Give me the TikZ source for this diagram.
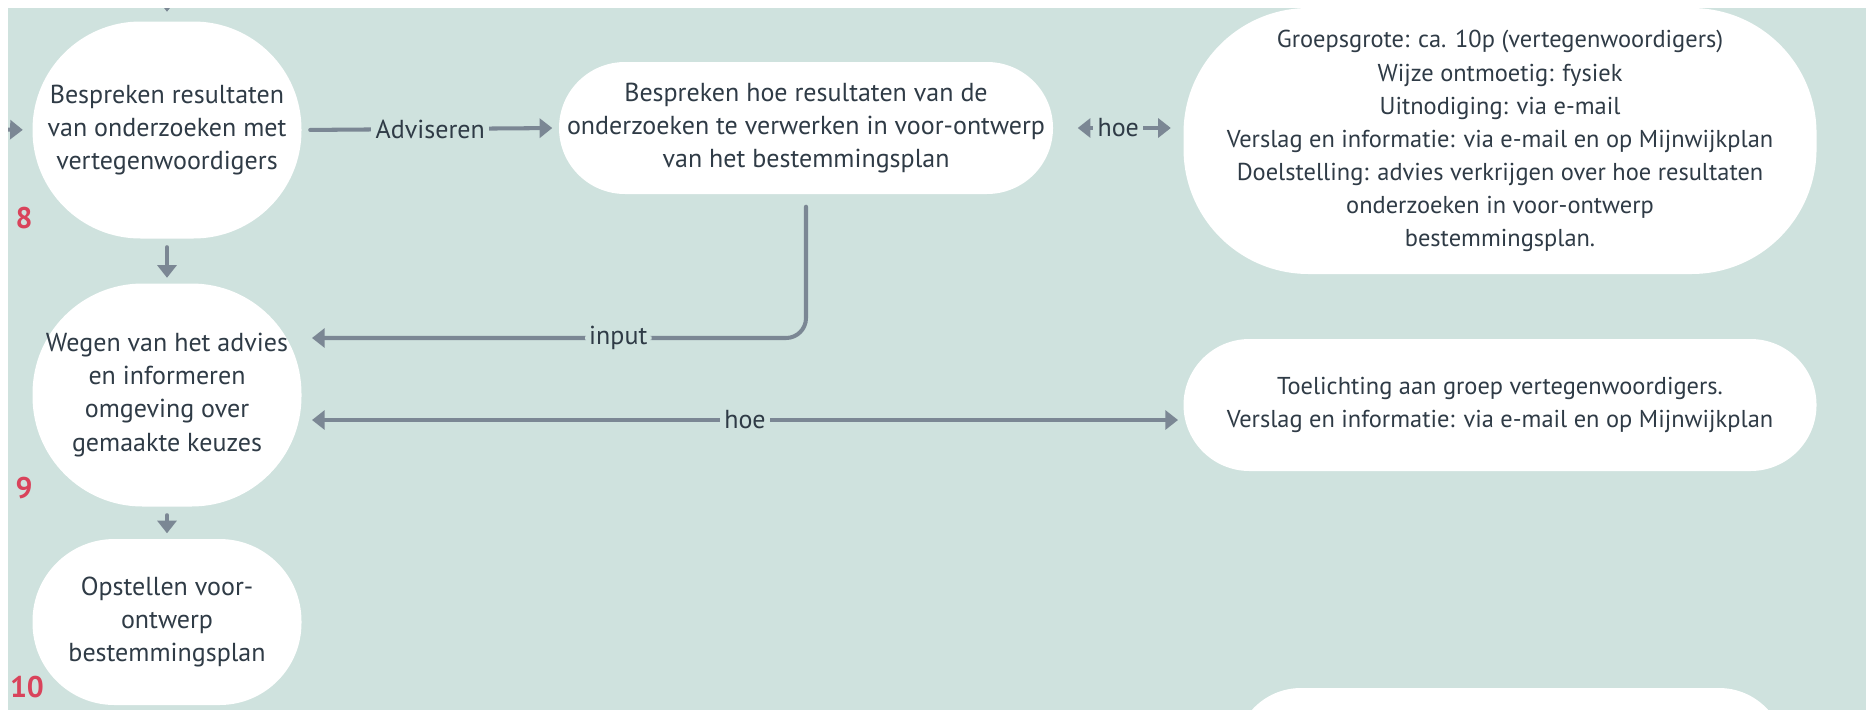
\documentclass[tikz,border=0pt]{standalone}
\usepackage{fontspec}
\setmainfont{PT Sans}
\usetikzlibrary{arrows.meta}
\definecolor{bgteal}{HTML}{CFE2DE}
\definecolor{linkgrey}{HTML}{7B8794}
\definecolor{textdark}{HTML}{2F3B46}
\definecolor{stepred}{HTML}{D9435B}
\begin{document}
\begin{tikzpicture}[
  blob/.style={fill=white, text=textdark, align=center, inner sep=0pt,
    rounded corners=#1, font=\fontsize{7.4}{9.4}\selectfont},
  blob/.default=0.66cm,
  small/.style={font=\fontsize{6.95}{9.4}\selectfont},
  link/.style={draw=linkgrey, line width=1.15pt, line cap=round,
    -{Triangle[length=3.6pt,width=5.4pt]}},
  twolink/.style={link, {Triangle[length=3.6pt,width=5.4pt]}-{Triangle[length=3.6pt,width=5.4pt]}},
  lbl/.style={fill=bgteal, text=textdark, inner sep=1.2pt, font=\fontsize{7.4}{9.4}\selectfont},
  num/.style={text=stepred, font=\bfseries\fontsize{8.5}{9}\selectfont}
]
\useasboundingbox (0,0) rectangle (18.66,-7.10);
\fill[bgteal] (0.08,-0.08) rectangle (18.66,-7.10);

% steps on the left
\node[blob=1.08cm, minimum width=2.69cm, minimum height=2.17cm] (besp) at (1.67,-1.30)
  {Bespreken resultaten\\van onderzoeken met\\vertegenwoordigers};
\node[blob=1.1cm, minimum width=2.69cm, minimum height=2.23cm] (wegen) at (1.67,-3.95)
  {Wegen van het advies\\en informeren\\omgeving over\\gemaakte keuzes};
\node[blob=0.82cm, minimum width=2.69cm, minimum height=1.66cm] (opst) at (1.67,-6.22)
  {Opstellen voor-\\ontwerp\\bestemmingsplan};

\node[num] (n8) at (0.24,-2.18) {8};
\node[num] (n9) at (0.24,-4.88) {9};
\node[num] (n10) at (0.27,-6.87) {10};

% middle and right
\node[blob, minimum width=4.94cm, minimum height=1.32cm] (hoeres) at (8.06,-1.28)
  {Bespreken hoe resultaten van de\\onderzoeken te verwerken in voor-ontwerp\\van het bestemmingsplan};
\node[blob=1.25cm, small, minimum width=6.33cm, minimum height=2.66cm] (groep) at (15.0,-1.41)
  {Groepsgrote: ca. 10p (vertegenwoordigers)\\Wijze ontmoetig: fysiek\\Uitnodiging: via e-mail\\
   Verslag en informatie: via e-mail en op Mijnwijkplan\\Doelstelling: advies verkrijgen over hoe resultaten\\
   onderzoeken in voor-ontwerp\\bestemmingsplan.};
\node[blob, small, minimum width=6.33cm, minimum height=1.32cm] (toel) at (15.0,-4.05)
  {Toelichting aan groep vertegenwoordigers.\\Verslag en informatie: via e-mail en op Mijnwijkplan};
\node[blob, minimum width=5.5cm, minimum height=1.32cm] (volg) at (15.1,-7.54) {};

% connectors
\coordinate (boven) at (1.67,0.3);
\coordinate (links) at (-0.3,-1.29);
\coordinate (inputend) at (3.12,-3.38);
\coordinate (hoestart) at (3.12,-4.20);
\coordinate (hoeend) at (11.78,-4.20);

\begin{scope}
\clip (0.08,-0.08) rectangle (18.66,-7.10);
\draw[link, shorten >=0.09cm] (boven) -- (besp);
\draw[link, shorten >=0.09cm] (links) -- (besp.west);
\end{scope}
\draw[link, shorten <=0.08cm, shorten >=0.05cm] (besp) -- (wegen);
\draw[link, shorten <=0.08cm, shorten >=0.05cm] (wegen) -- (opst);
\draw[link, shorten <=0.08cm, shorten >=0.06cm] (besp.east) -- node[lbl] {Adviseren} (hoeres.west);
\draw[twolink, shorten <=0.24cm, shorten >=0.12cm] (hoeres.east) -- node[lbl] {hoe} (groep.west |- hoeres.east);
\draw[link, rounded corners=0.2cm, shorten <=0.12cm] (hoeres.south) |- node[lbl, pos=0.69] {input} (inputend);
\draw[twolink] (hoestart) -- node[lbl, pos=0.5] {hoe} (hoeend);
\end{tikzpicture}
\end{document}
